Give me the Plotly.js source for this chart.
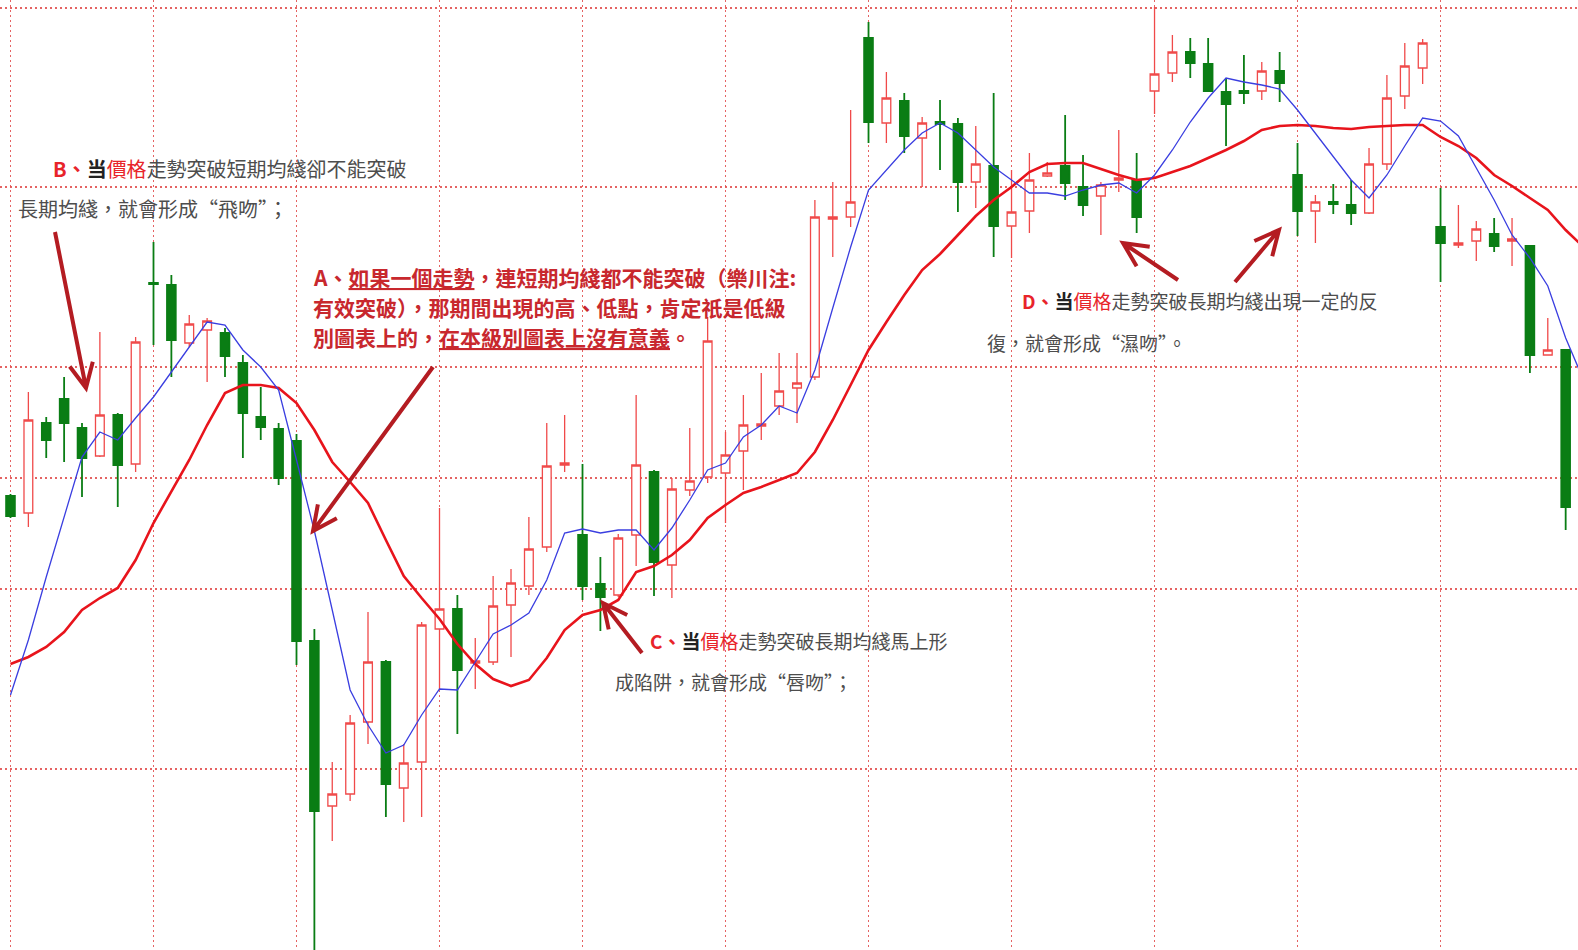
<!DOCTYPE html>
<html>
<head>
<meta charset="utf-8">
<script src="https://cdn.plot.ly/plotly-3.0.1.min.js"></script>
<style>
html,body{margin:0;padding:0;background:#ffffff;}
#chart{width:1578px;height:950px;}
</style>
</head>
<body>
<div id="chart"></div>
<script>
// ---------------- data ----------------
const days = [1,2,3,4,5,6,7,8,9,10,11,12,13,14,15,16,17,18,19,20,21,22,23,24,25,26,27,28,29,30,
  31,32,33,34,35,36,37,38,39,40,41,42,43,44,45,46,47,48,49,50,51,52,53,54,55,56,57,58,59,60,
  61,62,63,64,65,66,67,68,69,70,71,72,73,74,75,76,77,78,79,80,81,82,83,84,85,86,87,88];

// the moving averages run one bar further, off the right edge
const maDays = [1,2,3,4,5,6,7,8,9,10,11,12,13,14,15,16,17,18,19,20,21,22,23,24,25,26,27,28,29,30,
  31,32,33,34,35,36,37,38,39,40,41,42,43,44,45,46,47,48,49,50,51,52,53,54,55,56,57,58,59,60,
  61,62,63,64,65,66,67,68,69,70,71,72,73,74,75,76,77,78,79,80,81,82,83,84,85,86,87,88,89];

const openP = [14.54,14.37,15.27,15.51,15.22,14.94,15.35,14.86,16.67,16.65,
  16.07,16.20,16.17,15.87,15.33,15.21,15.09,13.09,11.44,11.56,
  12.28,12.88,11.62,11.88,13.21,13.41,12.87,12.88,13.45,13.64,
  14.03,14.85,14.15,13.66,13.55,14.15,14.78,13.85,14.60,14.73,
  14.77,14.99,15.24,15.44,15.62,15.73,17.31,17.33,19.12,18.27,
  18.49,18.12,18.28,18.26,17.68,17.84,17.24,17.39,17.74,17.84,
  17.63,17.54,17.70,17.70,18.59,18.77,18.98,18.86,18.58,18.59,
  18.59,18.79,17.75,17.39,17.48,17.45,17.37,17.86,18.54,18.82,
  17.23,17.05,17.09,17.16,17.09,17.04,15.95,16.00];

const highP = [14.56,15.58,15.33,15.73,15.27,16.18,15.37,16.13,17.08,16.75,
  16.35,16.32,16.22,15.95,15.63,15.27,15.16,13.21,11.88,12.35,
  13.38,12.90,12.06,13.28,14.42,13.55,13.12,13.74,13.81,14.33,
  15.27,15.35,14.86,13.93,14.16,15.55,14.80,14.72,15.22,16.33,
  15.18,15.55,15.77,15.97,15.97,17.50,17.68,18.40,19.28,18.78,
  18.57,18.33,18.50,18.32,18.24,18.57,17.80,17.97,17.88,18.35,
  17.95,17.68,18.20,17.97,19.43,19.15,19.12,19.12,18.72,18.95,
  18.88,18.98,18.07,17.55,17.66,17.70,18.02,18.75,19.07,19.11,
  17.62,17.45,17.29,17.32,17.32,17.05,16.32,16.00];

const lowP = [14.32,14.23,14.92,14.88,14.53,14.93,14.43,14.78,16.05,15.73,
  16.03,15.68,15.73,14.92,15.10,14.65,12.85,9.90,11.09,11.49,
  12.06,11.33,11.28,11.33,12.61,12.16,12.61,12.85,12.93,13.55,
  13.98,14.78,13.50,13.19,13.53,13.84,13.54,13.52,14.54,14.67,
  14.27,14.60,15.10,15.35,15.27,15.70,16.93,17.23,18.07,18.07,
  17.97,17.63,17.80,17.38,17.42,16.93,16.92,17.17,17.73,17.50,
  17.34,17.15,17.58,17.17,18.36,18.68,18.72,18.59,18.04,18.46,
  18.50,18.48,17.14,17.07,17.36,17.25,17.36,17.80,18.41,18.66,
  16.68,17.02,16.89,16.98,16.84,15.77,15.95,14.20];

const closeP = [14.34,15.30,15.10,15.27,14.92,15.35,14.85,16.08,16.66,16.10,
  16.26,16.29,15.94,15.37,15.23,14.72,13.09,11.39,11.56,12.27,
  12.88,11.66,11.87,13.25,13.41,12.80,12.89,13.44,13.67,14.01,
  14.84,14.87,13.64,13.53,14.12,14.85,13.88,14.61,14.69,16.09,
  14.95,15.25,15.26,15.59,15.67,17.33,17.33,17.48,18.28,18.52,
  18.14,18.27,18.26,17.68,17.86,17.24,17.38,17.70,17.77,17.67,
  17.45,17.65,17.72,17.33,18.76,18.98,18.87,18.59,18.46,18.57,
  18.79,18.67,17.39,17.48,17.46,17.37,17.86,18.52,18.84,19.07,
  17.07,17.07,17.21,17.04,17.11,15.95,16.00,14.43];

// short moving average (blue)
const maShort = [12.55,13.10,13.73,14.33,14.93,15.18,15.10,15.32,15.53,15.78,
  16.03,16.28,16.25,16.00,15.83,15.60,14.90,14.19,13.40,12.60,
  12.25,11.97,12.05,12.35,12.61,12.60,12.88,13.16,13.25,13.37,
  13.70,14.17,14.21,14.17,14.20,14.20,14.00,14.22,14.50,14.80,
  14.87,15.13,15.25,15.44,15.37,15.80,16.42,17.03,17.60,17.80,
  18.00,18.17,18.27,18.17,18.00,17.83,17.70,17.57,17.57,17.54,
  17.60,17.65,17.67,17.57,17.75,18.00,18.28,18.52,18.72,18.68,
  18.65,18.61,18.40,18.17,17.93,17.70,17.52,17.75,18.04,18.32,
  18.29,18.14,17.82,17.50,17.15,16.92,16.64,16.12,15.70];

// long moving average (red)
const maLong = [12.86,12.93,13.03,13.18,13.40,13.52,13.62,13.90,14.27,14.58,
  14.90,15.25,15.57,15.65,15.65,15.62,15.47,15.20,14.88,14.68,
  14.47,14.10,13.74,13.52,13.31,13.06,12.86,12.71,12.64,12.70,
  12.92,13.20,13.35,13.40,13.50,13.78,13.84,13.95,14.10,14.32,
  14.45,14.57,14.63,14.70,14.77,14.98,15.30,15.65,16.00,16.28,
  16.55,16.80,16.96,17.15,17.34,17.50,17.63,17.78,17.86,17.87,
  17.87,17.81,17.75,17.70,17.72,17.78,17.84,17.92,18.00,18.09,
  18.20,18.24,18.25,18.24,18.22,18.21,18.23,18.24,18.25,18.25,
  18.13,18.04,17.92,17.75,17.64,17.52,17.40,17.20,17.03];

const xGridDays = [1,9,17,25,33,41,49,57,65,73,81];
const yGridPrices = [19.42,17.63,15.83,14.72,13.61,11.81];

// ---------------- text ----------------
const RED = '#e8242a';
const txtB1 = '<b><span style="color:' + RED + '">B、</span></b><span style="color:#222"><b>当</b></span><span style="color:' + RED + '">價格</span>走勢突破短期均綫卻不能突破';
const txtB2 = '長期均綫，就會形成“飛吻”；';
const txtA1 = '<b>A、<u>如果一個走勢</u>，連短期均綫都不能突破（樂川注:</b>';
const txtA2 = '<b>有效突破），那期間出現的高、低點，肯定祇是低級</b>';
const txtA3 = '<b>別圖表上的，<u>在本級別圖表上沒有意義</u>。</b>';
const txtC1 = '<b><span style="color:' + RED + '">C、</span></b><span style="color:#222"><b>当</b></span><span style="color:' + RED + '">價格</span>走勢突破長期均綫馬上形';
const txtC2 = '成陷阱，就會形成“唇吻”；';
const txtD1 = '<b><span style="color:' + RED + '">D、</span></b><span style="color:#222"><b>当</b></span><span style="color:' + RED + '">價格</span>走勢突破長期均綫出現一定的反';
const txtD2 = '復，就會形成“濕吻”。';

// ---------------- layout helpers ----------------
const W = 1578, H = 950;
const FONT = '"Noto Sans CJK TC", "Noto Sans CJK SC", sans-serif';

function note(x, y, text, size, color) {
  return {xref:'paper', yref:'paper', x:x/W, y:1-y/H, xanchor:'left', yanchor:'middle',
    showarrow:false, text:text, borderpad:0,
    font:{family:FONT, size:size, color:color}};
}
function arrow(x1, y1, x2, y2) {
  const ang = Math.atan2(y2-y1, x2-x1), L = 27, a = 0.45;
  const p1 = [x2 - L*Math.cos(ang-a), y2 - L*Math.sin(ang-a)];
  const p2 = [x2 - L*Math.cos(ang+a), y2 - L*Math.sin(ang+a)];
  const P = (x,y) => (x/W).toFixed(5) + ',' + (1-y/H).toFixed(5);
  return {type:'path', xref:'paper', yref:'paper', layer:'above',
    path:'M' + P(x1,y1) + ' L' + P(x2,y2) + ' M' + P(p1[0],p1[1]) + ' L' + P(x2,y2) + ' L' + P(p2[0],p2[1]),
    line:{color:'#b41c22', width:4}};
}

const traces = [
  {type:'candlestick', x:days, open:openP, high:highP, low:lowP, close:closeP,
   increasing:{line:{color:'#f04a4a', width:1.3}, fillcolor:'#ffffff'},
   decreasing:{line:{color:'#0a7d14', width:1.8}, fillcolor:'#0a7d14'},
   hoverinfo:'skip', showlegend:false},
  {type:'scatter', mode:'lines', x:maDays, y:maLong, line:{color:'#e8141c', width:2.6},
   hoverinfo:'skip', showlegend:false},
  {type:'scatter', mode:'lines', x:maDays, y:maShort, line:{color:'#3a3ee0', width:1.3},
   hoverinfo:'skip', showlegend:false}
];

const gridStyle = {showgrid:true, gridcolor:'rgba(224,72,72,0.85)', gridwidth:1.6, griddash:'2px,3px',
  zeroline:false, showline:false, ticks:'', showticklabels:false, fixedrange:true};

const layout = {
  width:W, height:H,
  margin:{l:0, r:0, t:0, b:0},
  paper_bgcolor:'#ffffff', plot_bgcolor:'#ffffff',
  showlegend:false,
  xaxis:Object.assign({range:[0.413, 88.69], tickvals:xGridDays, rangeslider:{visible:false}}, gridStyle),
  yaxis:Object.assign({range:[10, 19.5], tickvals:yGridPrices}, gridStyle),
  annotations:[
    note(52, 168, txtB1, 20, '#4d4d4d'),
    note(17, 209, txtB2, 20, '#4d4d4d'),
    note(312, 277, txtA1, 21, '#c8282e'),
    note(312, 307, txtA2, 21, '#c8282e'),
    note(312, 337, txtA3, 21, '#c8282e'),
    note(649, 640, txtC1, 19, '#4d4d4d'),
    note(614, 681, txtC2, 19, '#4d4d4d'),
    note(1021, 300, txtD1, 19, '#4d4d4d'),
    note(986, 342, txtD2, 19, '#4d4d4d')
  ],
  shapes:[
    arrow(55, 232, 86, 388),
    arrow(433, 367, 313, 531),
    arrow(642, 653, 603, 603),
    arrow(1178, 280, 1123, 243),
    arrow(1235, 282, 1279, 230)
  ]
};

Plotly.newPlot('chart', traces, layout, {displayModeBar:false, staticPlot:true});
</script>
</body>
</html>
